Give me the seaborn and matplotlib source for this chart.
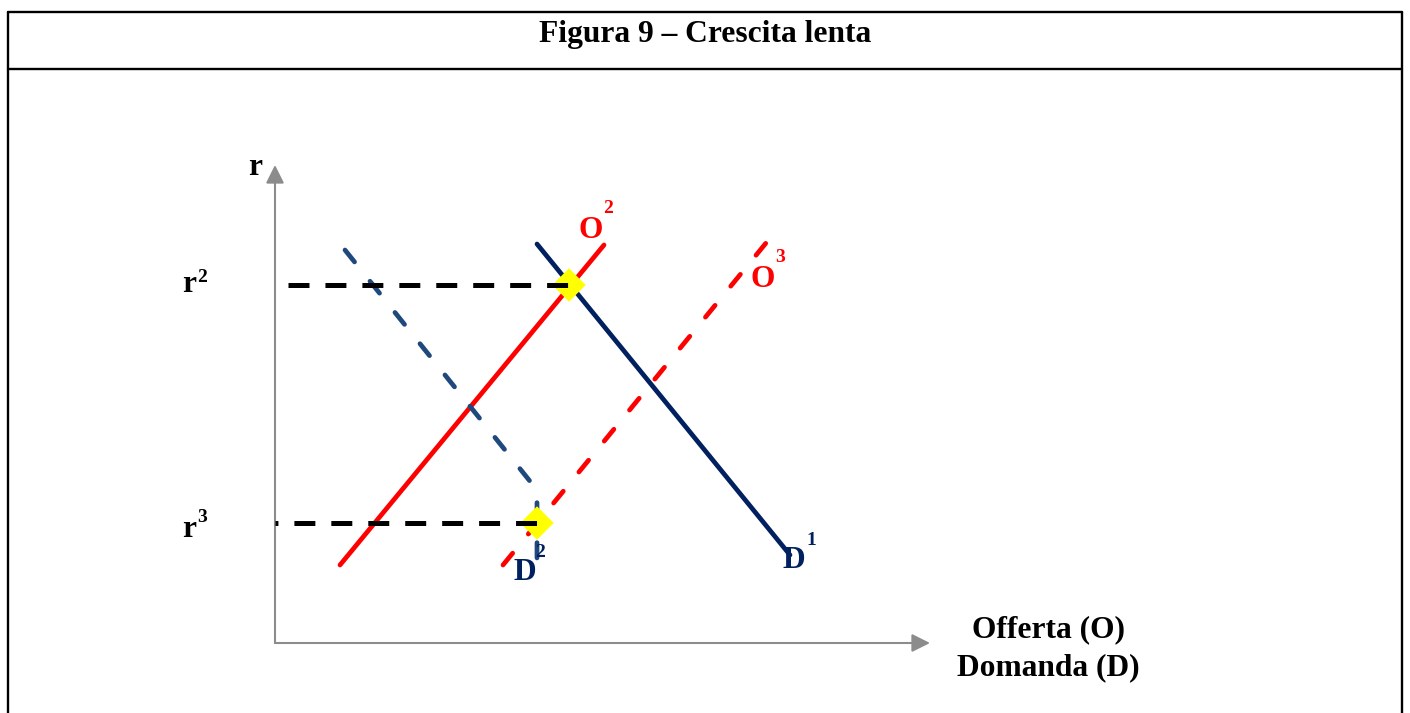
import numpy as np
import matplotlib.pyplot as plt
import seaborn as sns
from matplotlib.lines import Line2D

# ----------------------------------------------------------
# data (arbitrary units: quantity on x, interest rate on y)
# ----------------------------------------------------------
o2_x = [6.5, 32.9]          # supply O2 (solid)
o2_y = [7.8, 39.8]
o3_x = [22.8, 49.1]         # supply O3 (dashed)
o3_y = [7.8, 40.0]
d1_x = [26.2, 51.5]         # demand D1 (solid)
d1_y = [39.9, 8.8]
d2_x = [7.0, 26.2, 26.2]    # demand D2 (dashed)
d2_y = [39.3, 15.3, 7.6]

r2 = 35.8
r3 = 12.0
r2_x = [1.3, 29.5]
r3_x = [0.0, 26.2]

eq_x = [29.4, 26.2]         # equilibria
eq_y = [r2, r3]

x_max = 65.5
y_max = 47.8

title = 'Figura 9 \u2013 Crescita lenta'
xlabel = ['Offerta (O)', 'Domanda (D)']

# ----------------------------------------------------------
# style
# ----------------------------------------------------------
sns.set_theme(style='white')
plt.rcParams['font.family'] = ['Liberation Serif', 'DejaVu Serif']
plt.rcParams['font.weight'] = 'bold'
plt.rcParams['lines.scale_dashes'] = False

RED = '#FF0000'
NAVY = '#002060'
BLUE = '#1F497D'
GREY = '#8C8C8C'
BIG = 22.7
SUP = 14

fig = plt.figure(figsize=(14.1, 7.13), dpi=100)
fig.patch.set_facecolor('white')

# frame of the figure box
W, H = 1410.0, 713.0
frame = [((8, 8), (12, 713)), ((1402, 1402), (12, 713)),
         ((8, 1402), (12, 12)), ((8, 1402), (69, 69))]
for xs, ys in frame:
    fig.add_artist(Line2D([x / W for x in xs], [1 - y / H for y in ys],
                          transform=fig.transFigure, color='black', lw=1.7))
fig.text(0.5, 1 - 42 / H, title, ha='center', va='baseline',
         fontsize=BIG, fontweight='bold', color='black')

# ----------------------------------------------------------
# main
# ----------------------------------------------------------
ax = fig.add_axes([275 / W, 70 / H, 655 / W, 478 / H])
ax.set_xlim(0, x_max)
ax.set_ylim(0, y_max)
ax.axis('off')

solid = dict(lw=3.4, solid_capstyle='round', sort=False, estimator=None)
dashed = dict(lw=3.4, linestyle=(0, (11.0, 17.8)), dash_capstyle='round',
              sort=False, estimator=None)

sns.lineplot(x=o2_x, y=o2_y, color=RED, ax=ax, zorder=3, **solid)
sns.lineplot(x=d1_x, y=d1_y, color=NAVY, ax=ax, zorder=3, **solid)
sns.lineplot(x=o3_x, y=o3_y, color=RED, ax=ax, zorder=3, **dashed)
sns.lineplot(x=d2_x, y=d2_y, color=BLUE, ax=ax, zorder=3, **dashed)

sns.scatterplot(x=eq_x, y=eq_y, marker='D', s=290, color='#FFFF00',
                edgecolor='none', ax=ax, zorder=4, clip_on=False)

sns.lineplot(x=r2_x, y=[r2, r2], color='black', lw=3.6, ax=ax, zorder=5,
             linestyle=(0, (15.1, 11.5)), sort=False, estimator=None)
sns.lineplot(x=r3_x, y=[r3, r3], color='black', lw=3.6, ax=ax, zorder=5,
             linestyle=(13, (15.1, 11.5)), sort=False, estimator=None)

# axes with arrows
arrow = dict(arrowstyle='-|>,head_length=1.1,head_width=0.55', color=GREY,
             lw=1.5, shrinkA=0, shrinkB=0, mutation_scale=10)
ax.annotate('', xy=(0, y_max), xytext=(0, 0), arrowprops=arrow,
            annotation_clip=False)
ax.annotate('', xy=(x_max, 0), xytext=(0, 0), arrowprops=arrow,
            annotation_clip=False)

# labels: (base, superscript, x, y, colour, sup x, sup y)
labels = [
    ('r', '', -2.7, 46.8, 'black', 0, 0),
    ('r', '2', -9.3, 35.1, 'black', -7.8, 36.1),
    ('r', '3', -9.3, 10.6, 'black', -7.8, 12.1),
    ('O', '2', 30.3, 40.5, RED, 32.8, 43.0),
    ('O', '3', 47.6, 35.6, RED, 50.0, 38.1),
    ('D', '1', 50.8, 7.5, NAVY, 53.1, 9.8),
    ('D', '2', 23.9, 6.3, NAVY, 26.0, 8.6),
]
for base, sup, x, y, c, sx, sy in labels:
    ax.text(x, y, base, ha='left', va='baseline', fontsize=BIG,
            fontweight='bold', color=c, clip_on=False, zorder=6)
    if sup:
        ax.text(sx, sy, sup, ha='left', va='baseline', fontsize=SUP,
                fontweight='bold', color=c, clip_on=False, zorder=6)

ax.text(77.3, 0.6, xlabel[0], ha='center', va='baseline', fontsize=BIG,
        fontweight='bold', color='black', clip_on=False)
ax.text(77.3, -3.2, xlabel[1], ha='center', va='baseline', fontsize=BIG,
        fontweight='bold', color='black', clip_on=False)

plt.savefig('out.png', dpi=100)
